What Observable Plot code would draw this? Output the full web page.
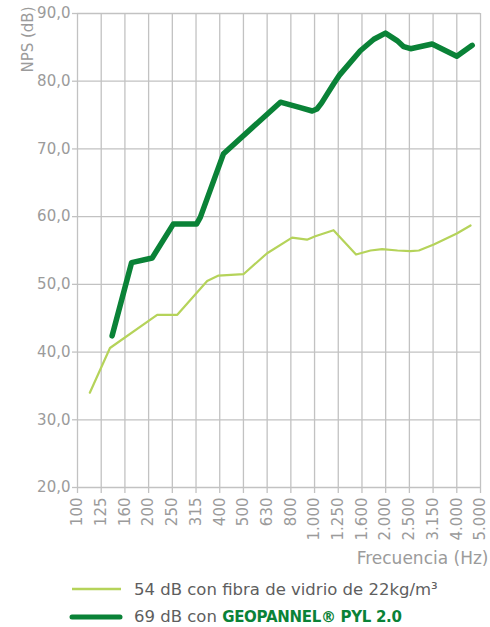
<!DOCTYPE html>
<html><head><meta charset="utf-8">
<script src="https://cdn.jsdelivr.net/npm/d3@7"></script>
<script src="https://cdn.jsdelivr.net/npm/@observablehq/plot@0.6"></script>
<style>
body{margin:0;background:#fff;font-family:"DejaVu Sans",sans-serif;}
#chart{width:490px;height:627px}
#chart svg{display:block}
.legend{margin-left:69px}
.row{display:flex;align-items:center;font-size:16.5px;line-height:19px;color:#5e5e5e;white-space:nowrap}
.row1{height:28px}
.row2{height:21px;margin-top:3px}
.row svg{margin-right:11px;display:block}
.row b{color:#0a8237;font-size:15px;letter-spacing:-0.3px}
</style></head><body><div id="chart"></div><script>
// x tick labels (third-octave bands)
const freqLabels = ["100","125","160","200","250","315","400","500","630","800","1.000","1.250","1.600","2.000","2.500","3.150","4.000","5.000"];
const yTicks = [20,30,40,50,60,70,80,90];
// light series (position along band axis, dB)
const fibraX = [0.52,1.37,3.36,4.21,5.47,5.95,7.0,8.0,9.05,9.68,10.03,10.8,11.75,12.36,12.85,13.5,14.04,14.4,15.03,16.0,16.58];
const fibraY = [34.0,40.6,45.5,45.5,50.5,51.3,51.5,54.6,56.9,56.6,57.1,58.0,54.4,55.0,55.2,55.0,54.9,55.0,55.9,57.5,58.7];
// dark series
const geoX = [1.46,2.28,3.15,4.04,5.02,5.18,6.16,8.56,9.4,9.9,10.1,10.3,10.55,10.8,11.05,11.93,12.5,12.99,13.48,13.76,14.05,14.96,16.0,16.65];
const geoY = [42.4,53.2,53.9,58.9,58.9,59.9,69.3,76.9,76.1,75.6,75.9,76.8,78.2,79.6,80.9,84.5,86.2,87.1,86.0,85.1,84.8,85.5,83.7,85.3];
const seriesColors = ["#b5d35a","#0a8237"];
const yLabel = "NPS (dB)";
const xLabel = "Frecuencia (Hz)";

const fibra = fibraX.map((x,i)=>({x, y: fibraY[i]}));
const geo = geoX.map((x,i)=>({x, y: geoY[i]}));
const bands = d3.range(freqLabels.length);
const grey = "#9b9b9b", gridC = "#c2c2c2";

const plot = Plot.plot({
  width: 490, height: 575,
  marginLeft: 77, marginRight: 10, marginTop: 13, marginBottom: 88,
  style: {fontFamily: "DejaVu Sans", fontSize: "15px", color: grey, background: "#fff"},
  x: {domain: [0, 17]},
  y: {domain: [20, 90]},
  marks: [
    Plot.gridX(bands, {stroke: gridC, strokeOpacity: 1, strokeWidth: 1.3}),
    Plot.gridY(yTicks, {stroke: gridC, strokeOpacity: 1, strokeWidth: 1.3}),
    Plot.axisX(bands, {tickFormat: i => freqLabels[i], tickRotate: -90, tickSize: 6, tickPadding: 4, stroke: gridC, strokeWidth: 1.3, fill: grey, label: null}),
    Plot.axisY(yTicks, {tickFormat: d => d.toFixed(1).replace(".", ","), tickSize: 5, tickPadding: 2, stroke: gridC, strokeWidth: 1.3, fill: grey, label: null}),
    Plot.line(fibra, {x: "x", y: "y", stroke: seriesColors[0], strokeWidth: 2.2, strokeLinejoin: "round"}),
    Plot.line(geo, {x: "x", y: "y", stroke: seriesColors[1], strokeWidth: 5.5, strokeLinecap: "round", strokeLinejoin: "round"}),
    Plot.text([yLabel], {text: d => d, frameAnchor: "top-left", rotate: -90, textAnchor: "end", dx: -55, dy: -7, fill: grey, fontSize: 15}),
    Plot.text([xLabel], {text: d => d, frameAnchor: "bottom-right", textAnchor: "end", dx: 8, dy: 76, fill: grey, fontSize: 17})
  ]
});
const chart = document.getElementById("chart");
chart.appendChild(plot);

const legend = document.createElement("div");
legend.className = "legend";
legend.innerHTML = `
<div class="row row1"><svg width="54" height="10"><line x1="3" x2="52" y1="5" y2="5" stroke="${seriesColors[0]}" stroke-width="2.4"/></svg><span>54 dB con fibra de vidrio de 22kg/m³</span></div>
<div class="row row2"><svg width="54" height="10"><line x1="3" x2="51" y1="5" y2="5" stroke="${seriesColors[1]}" stroke-width="5" stroke-linecap="round"/></svg><span>69 dB con <b>GEOPANNEL® PYL 2.0</b></span></div>`;
chart.appendChild(legend);
</script></body></html>
